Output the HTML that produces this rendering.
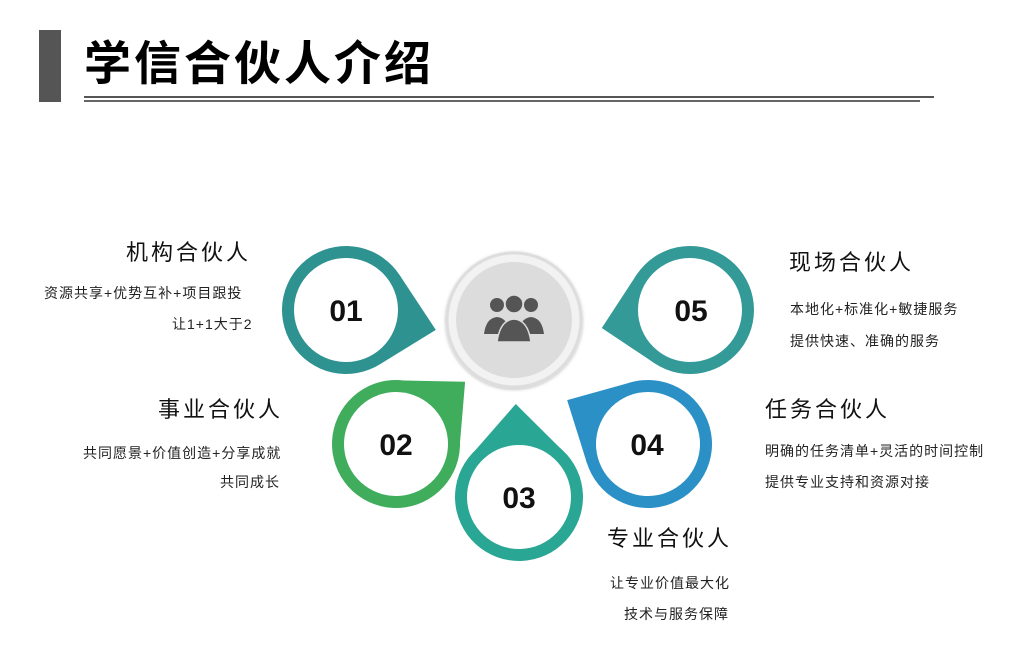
<!DOCTYPE html>
<html><head><meta charset="utf-8"><style>
body{margin:0;width:1014px;height:671px;background:#fff;position:relative;overflow:hidden;font-family:"Liberation Sans","Noto Sans CJK SC",sans-serif;color:#111}
.t{position:absolute;white-space:nowrap}
.h{font-size:22px;letter-spacing:3px}
.b{font-size:14px;color:#222;letter-spacing:1px}
</style></head><body>
<div style="position:absolute;left:39px;top:30px;width:22px;height:72px;background:#555"></div>
<div class="t" style="left:84px;top:28px;font-size:47px;letter-spacing:3px;line-height:64px;font-family:'Noto Sans CJK SC',sans-serif;font-weight:bold;color:#000">学信合伙人介绍</div>
<div style="position:absolute;left:84px;top:96px;width:850px;height:2px;background:#555"></div>
<div style="position:absolute;left:84px;top:100px;width:836px;height:2px;background:#666"></div>
<svg width="1014" height="671" style="position:absolute;left:0;top:0">
<defs><filter id="s"><feDropShadow dx="0" dy="1" stdDeviation="1.5" flood-opacity="0.25"/></filter></defs>
<circle cx="514" cy="320" r="67" fill="#f2f2f2" stroke="#ddd" stroke-width="3" filter="url(#s)"/>
<circle cx="514" cy="320" r="58" fill="#dcdcdc"/>
<g fill="#555">
<circle cx="497" cy="305" r="7"/><circle cx="531" cy="305" r="7"/>
<path d="M484 334 q2-16 13-17 q11 1 13 17z"/><path d="M518 334 q2-16 13-17 q11 1 13 17z"/>
<circle cx="514" cy="304" r="9" fill="#555" stroke="#dcdcdc" stroke-width="1.5"/>
<path d="M497 342 q3-22 17-23 q14 1 17 23z" stroke="#dcdcdc" stroke-width="1.5"/>
</g>
<g transform="translate(346,310) rotate(12.5)"><circle r="64" fill="#2e9290"/><polygon points="92,0 44.5,46 44.5,-46" fill="#2e9290"/><circle r="52" fill="#fff"/></g>
<g transform="translate(690,310) rotate(168.5)"><circle r="64" fill="#339a98"/><polygon points="90,0 45.5,45 45.5,-45" fill="#339a98"/><circle r="52" fill="#fff"/></g>
<g transform="translate(396,444) rotate(-42)"><circle r="64" fill="#40ad5c"/><polygon points="93,0 44,46 44,-46" fill="#40ad5c"/><circle r="52" fill="#fff"/></g>
<g transform="translate(648,444) rotate(208.5)"><circle r="64" fill="#2b90c6"/><polygon points="92,0 44.5,46 44.5,-46" fill="#2b90c6"/><circle r="52" fill="#fff"/></g>
<g transform="translate(519,497) rotate(-92)"><circle r="64" fill="#2aa694"/><polygon points="93,0 44,46 44,-46" fill="#2aa694"/><circle r="52" fill="#fff"/></g>
<g font-family="Liberation Sans" font-weight="bold" font-size="30" text-anchor="middle" fill="#111">
<text x="346" y="321">01</text><text x="691" y="321">05</text><text x="396" y="455">02</text><text x="647" y="455">04</text><text x="519" y="508">03</text>
</g>
</svg>
<div class="t h" style="left:126px;top:235px">机构合伙人</div>
<div class="t b" style="left:44px;top:283px">资源共享+优势互补+项目跟投</div>
<div class="t b" style="left:172px;top:314px">让1+1大于2</div>
<div class="t h" style="left:158px;top:392px">事业合伙人</div>
<div class="t b" style="left:83px;top:443px">共同愿景+价值创造+分享成就</div>
<div class="t b" style="left:220px;top:472px">共同成长</div>
<div class="t h" style="left:789px;top:245px">现场合伙人</div>
<div class="t b" style="left:790px;top:299px">本地化+标准化+敏捷服务</div>
<div class="t b" style="left:790px;top:331px">提供快速、准确的服务</div>
<div class="t h" style="left:765px;top:392px">任务合伙人</div>
<div class="t b" style="left:765px;top:441px">明确的任务清单+灵活的时间控制</div>
<div class="t b" style="left:765px;top:472px">提供专业支持和资源对接</div>
<div class="t h" style="left:607px;top:521px">专业合伙人</div>
<div class="t b" style="left:610px;top:573px">让专业价值最大化</div>
<div class="t b" style="left:624px;top:604px">技术与服务保障</div>
</body></html>
